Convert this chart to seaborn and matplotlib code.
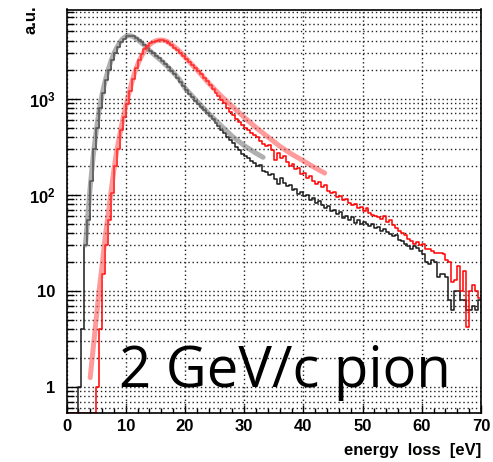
import numpy as np
import pandas as pd
import seaborn as sns
import matplotlib
matplotlib.use("Agg")
import matplotlib.pyplot as plt
from matplotlib.ticker import FixedLocator, MultipleLocator, LogLocator, FuncFormatter, NullFormatter

# ---------------- data ----------------
bin_edges = [0.5 * i for i in range(141)]   # 0.5 eV bins, 0..70 eV

black_counts = [
    0, 0, 0, 0, 1, 4, 30, 55, 140, 300,
    500, 800, 1150, 1550, 2000, 2500, 3000, 3450, 3900, 4200,
    4450, 4520, 4450, 4300, 4100, 3850, 3600, 3350, 3150, 2950,
    2800, 2620, 2450, 2280, 2120, 1960, 1800, 1650, 1500, 1350,
    1220, 1120, 1030, 950, 880, 820, 760, 710, 660, 610,
    560, 520, 475, 440, 400, 370, 345, 310, 295, 265,
    255, 240, 225, 215, 198, 205, 178, 172, 160, 165,
    145, 128, 150, 132, 122, 126, 112, 115, 102, 106,
    96, 100, 88, 92, 82, 86, 78, 73, 76, 67,
    70, 63, 66, 57, 60, 54, 58, 51, 55, 50,
    52, 50, 47, 49, 45, 46, 42, 44, 41, 39,
    37, 38, 34, 33, 31, 29, 27, 29, 28, 26,
    24, 20, 19, 21, 20, 14, 15, 15, 14, 8,
    6.3, 10, 10, 8, 8, 6.3, 6.3, 7, 6.3, 8,
]

red_counts = [
    0, 0, 0, 0, 0, 0, 0, 0, 0, 0,
    1, 4, 15, 30, 55, 105, 200, 300, 470, 650,
    870, 1200, 1600, 2100, 2550, 2900, 3250, 3500, 3750, 3900,
    4000, 4050, 4050, 3950, 3800, 3600, 3400, 3200, 3000, 2800,
    2600, 2400, 2250, 2080, 1950, 1800, 1650, 1520, 1400, 1270,
    1150, 1060, 970, 890, 800, 720, 670, 610, 570, 530,
    500, 470, 440, 420, 400, 360, 340, 320, 330, 290,
    230, 270, 240, 250, 220, 200, 210, 185, 190, 165,
    170, 150, 155, 140, 130, 135, 120, 125, 110, 105,
    108, 95, 98, 88, 90, 82, 78, 80, 72, 75,
    68, 72, 65, 62, 60, 58, 56, 60, 52, 55,
    48, 45, 42, 40, 38, 35, 33, 31, 32, 30,
    31, 27, 27, 26, 25, 25, 25, 24, 21, 20,
    12.5, 13, 18, 10, 16, 4.2, 10, 11.5, 10, 8.5,
]

black_fit_x = [3.2, 3.6, 4.0, 4.5, 5.0, 5.5, 6.0, 6.5, 7.0, 7.5,
               8.0, 8.5, 9.0, 9.5, 10.0, 10.5, 11.0, 11.5, 12.0, 13.0,
               14.0, 15.0, 16.0, 17.0, 18.0, 19.0, 20.0, 22.0, 24.0, 26.0,
               28.0, 30.0, 32.0, 33.2]
black_fit_y = [30, 60, 120, 250, 450, 750, 1100, 1500, 1950, 2450,
               2950, 3400, 3850, 4200, 4420, 4520, 4480, 4330, 4120, 3650,
               3180, 2800, 2480, 2170, 1880, 1600, 1290, 940, 700, 530,
               405, 325, 270, 245]

red_fit_x = [4.0, 4.5, 5.0, 5.5, 6.0, 6.5, 7.0, 7.5, 8.0, 8.5,
             9.0, 9.5, 10.0, 10.5, 11.0, 11.5, 12.0, 12.5, 13.0, 13.5,
             14.0, 14.5, 15.0, 15.5, 16.0, 16.5, 17.0, 18.0, 19.0, 20.0,
             22.0, 24.0, 26.0, 28.0, 30.0, 32.0, 34.0, 36.0, 38.0, 40.0,
             42.0, 43.6]
red_fit_y = [1.25, 2.5, 5, 10, 18, 35, 60, 105, 180, 290,
             420, 600, 830, 1100, 1450, 1850, 2250, 2650, 3000, 3350,
             3620, 3830, 3970, 4050, 4070, 4030, 3930, 3550, 3150, 2700,
             2000, 1450, 1080, 830, 640, 500, 400, 320, 265, 225,
             190, 168]

x_ticks = [0, 10, 20, 30, 40, 50, 60, 70]
y_ticks = [1, 10, 100, 1000]
y_tick_labels = ["1", "10", r"$10^{2}$", r"$10^{3}$"]

# ---------------- style ----------------
sns.set_theme(style="white")
plt.rcParams['font.family'] = ['Liberation Sans', 'DejaVu Sans']
plt.rcParams['font.weight'] = 'bold'
plt.rcParams['mathtext.fontset'] = 'custom'
plt.rcParams['mathtext.rm'] = 'Liberation Sans:bold'
plt.rcParams['mathtext.it'] = 'Liberation Sans:bold'
plt.rcParams['mathtext.bf'] = 'Liberation Sans:bold'

W, H = 493, 462
fig = plt.figure(figsize=(W / 100, H / 100), dpi=100)
fig.patch.set_facecolor('white')
x0, x1, ytop, ybot = 66.5, 481, 9.5, 413
ax = fig.add_axes([x0 / W, 1 - ybot / H, (x1 - x0) / W, (ybot - ytop) / H])
ax.set_facecolor('white')

ymin, ymax = 0.536, 8450
edges_arr = np.asarray(bin_edges)
centers = edges_arr[:-1] + 0.25

def draw_hist(counts, color):
    c = np.asarray(counts, dtype=float)
    df = pd.DataFrame({"energy": centers, "w": np.where(c > 0, c, ymin)})
    sns.histplot(data=df, x="energy", weights="w", bins=bin_edges, element="step",
                 fill=False, color=color, linewidth=1.1, ax=ax)

draw_hist(black_counts, "#1a1a1a")
sns.lineplot(x=black_fit_x, y=black_fit_y, color="#7a7a7a", linewidth=3.6, alpha=0.6, ax=ax)
draw_hist(red_counts, "#ff0000")
sns.lineplot(x=red_fit_x, y=red_fit_y, color="#ff4a4a", linewidth=3.6, alpha=0.55, ax=ax)

ax.set_yscale('log')
ax.set_xlim(0, 70)
ax.set_ylim(ymin, ymax)

ax.xaxis.set_major_locator(FixedLocator(x_ticks))
ax.xaxis.set_minor_locator(MultipleLocator(2))
ax.yaxis.set_major_locator(FixedLocator(y_ticks))
ax.yaxis.set_major_formatter(FuncFormatter(
    lambda v, p: y_tick_labels[y_ticks.index(int(round(v)))] if int(round(v)) in y_ticks else ""))
ax.yaxis.set_minor_locator(LogLocator(base=10, subs=np.arange(2, 10), numticks=20))
ax.yaxis.set_minor_formatter(NullFormatter())

grid_kw = dict(color="#222222", linestyle=(0, (1, 2)), linewidth=1.0)
ax.grid(True, which='major', axis='x', **grid_kw)
ax.grid(True, which='both', axis='y', **grid_kw)
ax.set_axisbelow(True)

ax.tick_params(axis='both', which='both', direction='in', colors='black',
               left=True, bottom=True, top=False, right=False, labelsize=12)
ax.tick_params(axis='y', which='major', length=9, width=1.0, pad=8)
ax.tick_params(axis='y', which='minor', length=5, width=1.0)
ax.tick_params(axis='x', which='major', length=6, width=1.0, pad=4)
ax.tick_params(axis='x', which='minor', length=3.5, width=1.0)

for s in ax.spines.values():
    s.set_color('black')
    s.set_linewidth(1.2)
    s.set_visible(True)

ax.set_xlabel("")
ax.set_ylabel("")

fig.text(481 / W, 1 - 450 / H, "energy  loss  [eV]", ha='right', va='center',
         fontsize=12, fontweight='bold', color='black')
fig.text(31 / W, 1 - 5 / H, "a.u.", rotation=90, ha='center', va='top',
         fontsize=12, fontweight='bold', color='black')
fig.text(119 / W, 1 - 387 / H, "2 GeV/c pion", ha='left', va='baseline',
         fontsize=40.5, fontweight='normal', family=['Open Sans', 'DejaVu Sans'],
         color='black')

fig.savefig("out.png", dpi=100, facecolor='white')
